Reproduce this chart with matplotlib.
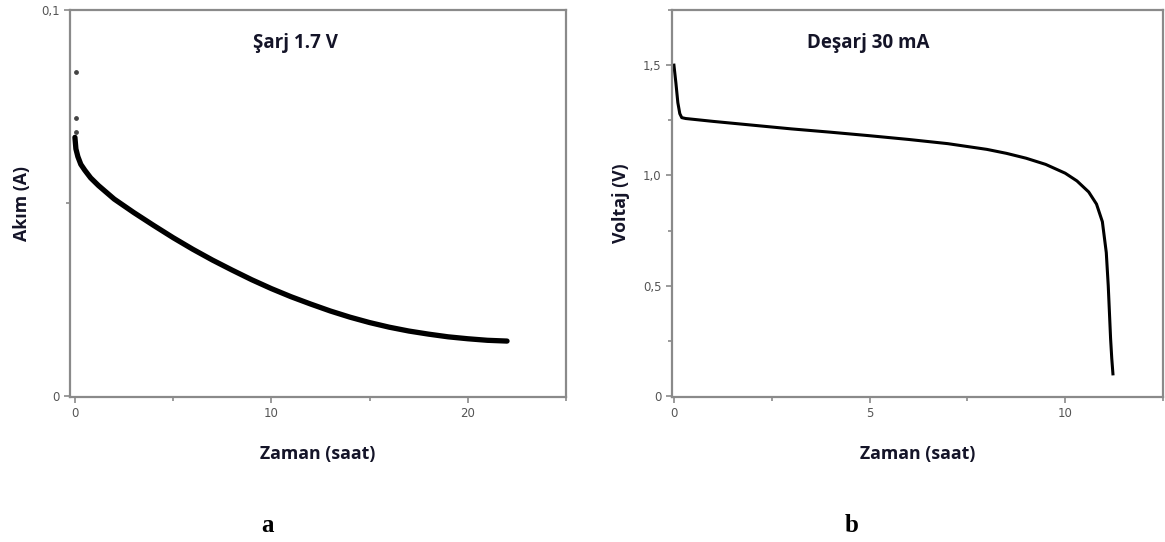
import matplotlib.pyplot as plt
from matplotlib.ticker import MultipleLocator

# =========================
# DATA
# =========================
# a) charge at 1.7 V : current (A) vs time (h)
charge_time = [0.0, 0.05, 0.15, 0.3, 0.5, 0.8, 1.2, 2.0, 3.0, 4.0, 5.0, 6.0, 7.0, 8.0,
               9.0, 10.0, 11.0, 12.0, 13.0, 14.0, 15.0, 16.0, 17.0, 18.0, 19.0, 20.0,
               21.0, 22.0]
charge_current = [0.067, 0.064, 0.062, 0.060, 0.0585, 0.0565, 0.0545, 0.051, 0.0475,
                  0.0442, 0.0410, 0.0380, 0.0352, 0.0326, 0.0301, 0.0278, 0.0257,
                  0.0238, 0.0220, 0.0204, 0.0190, 0.0178, 0.0168, 0.0160, 0.0153,
                  0.0148, 0.0144, 0.0142]
spike_time = [0.05, 0.05, 0.05]
spike_current = [0.084, 0.072, 0.0685]

# b) discharge at 30 mA : voltage (V) vs time (h)
dis_time = [0.0, 0.05, 0.1, 0.15, 0.2, 0.3, 1.0, 2.0, 3.0, 4.0, 5.0, 6.0, 7.0, 8.0,
            8.5, 9.0, 9.5, 10.0, 10.3, 10.6, 10.8, 10.95, 11.05, 11.1, 11.13, 11.16,
            11.19, 11.22]
dis_volt = [1.50, 1.42, 1.33, 1.28, 1.262, 1.258, 1.245, 1.228, 1.211, 1.196, 1.180,
            1.163, 1.144, 1.118, 1.100, 1.078, 1.050, 1.010, 0.975, 0.925, 0.870,
            0.790, 0.650, 0.500, 0.380, 0.260, 0.170, 0.100]

TICK_COLOR = "#555555"
SPINE_COLOR = "#8a8a8a"
TEXT_COLOR = "#141428"
LABEL_FONT = ["Open Sans", "DejaVu Sans"]
LABEL_SIZE = 12.8
TITLE_SIZE = 13.5


def style_axes(ax):
    for s in ax.spines.values():
        s.set_color(SPINE_COLOR)
        s.set_linewidth(1.6)
    ax.tick_params(which="both", direction="out", colors=SPINE_COLOR,
                   labelcolor=TICK_COLOR, labelsize=8.5, width=1.2)
    ax.tick_params(which="major", length=4)
    ax.tick_params(which="minor", length=3)
    ax.tick_params(top=False, right=False)


fig = plt.figure(figsize=(11.65, 5.42), dpi=100)

# =========================
# PANEL a
# =========================
ax1 = fig.add_axes([0.0601, 0.2675, 0.4257, 0.7140])
ax1.plot(charge_time, charge_current, color="black", lw=3.8, solid_capstyle="round")
ax1.scatter(spike_time, spike_current, s=6, color="#444444", zorder=3)
ax1.set_xlim(-0.25, 25)
ax1.set_ylim(-0.0003, 0.1)
ax1.set_xticks([0, 10, 20])
ax1.xaxis.set_minor_locator(MultipleLocator(5))
ax1.set_yticks([0, 0.1])
ax1.set_yticklabels(["0", "0,1"])
ax1.yaxis.set_minor_locator(MultipleLocator(0.05))
style_axes(ax1)
ax1.set_xlabel("Zaman (saat)", family=LABEL_FONT, fontweight="bold",
               fontsize=LABEL_SIZE, color=TEXT_COLOR, labelpad=18)
ax1.set_ylabel("Akım (A)", family=LABEL_FONT, fontweight="bold",
               fontsize=LABEL_SIZE, color=TEXT_COLOR, labelpad=7)
ax1.text(0.455, 0.915, "Şarj 1.7 V", transform=ax1.transAxes, ha="center",
         va="center", family=LABEL_FONT, fontweight="bold", fontsize=TITLE_SIZE,
         color=TEXT_COLOR)

# =========================
# PANEL b
# =========================
ax2 = fig.add_axes([0.5768, 0.2675, 0.4215, 0.7140])
ax2.plot(dis_time, dis_volt, color="black", lw=2.2)
ax2.set_xlim(-0.05, 12.5)
ax2.set_ylim(-0.005, 1.75)
ax2.set_xticks([0, 5, 10])
ax2.xaxis.set_minor_locator(MultipleLocator(2.5))
ax2.set_yticks([0, 0.5, 1.0, 1.5])
ax2.set_yticklabels(["0", "0,5", "1,0", "1,5"])
ax2.yaxis.set_minor_locator(MultipleLocator(0.25))
style_axes(ax2)
ax2.set_xlabel("Zaman (saat)", family=LABEL_FONT, fontweight="bold",
               fontsize=LABEL_SIZE, color=TEXT_COLOR, labelpad=18)
ax2.set_ylabel("Voltaj (V)", family=LABEL_FONT, fontweight="bold",
               fontsize=LABEL_SIZE, color=TEXT_COLOR, labelpad=9)
ax2.text(0.40, 0.915, "Deşarj 30 mA", transform=ax2.transAxes, ha="center",
         va="center", family=LABEL_FONT, fontweight="bold", fontsize=TITLE_SIZE,
         color=TEXT_COLOR)

# panel letters
fig.text(268 / 1165, 1 - 525 / 542, "a", ha="center", va="center",
         family="Liberation Serif", fontweight="bold", fontsize=18, color="black")
fig.text(852 / 1165, 1 - 525 / 542, "b", ha="center", va="center",
         family="Liberation Serif", fontweight="bold", fontsize=18, color="black")

fig.savefig("out.png", dpi=100)
